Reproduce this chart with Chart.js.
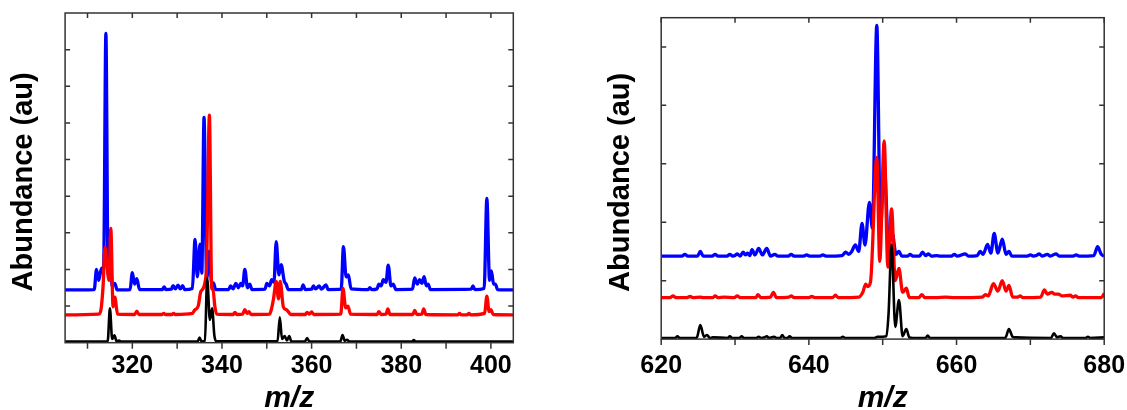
<!DOCTYPE html>
<html>
<head>
<meta charset="utf-8">
<script src="https://cdn.jsdelivr.net/npm/chart.js@4"></script>
<style>
  html, body { margin: 0; padding: 0; background: #fff; overflow: hidden; width: 1127px; height: 410px; }
  canvas { position: absolute; top: 0; }
  #left { left: 0; }
  #right { left: 590px; }
</style>
</head>
<body>
<canvas id="left" width="540" height="440"></canvas>
<canvas id="right" width="537" height="440"></canvas>
<script>
// [m/z, abundance]
const leftBlue = [
  [305, 1.44], [311.5, 1.45], [312.0, 2.0], [312.5, 1.7], [313.1, 2.02], [313.6, 2.1], [314.1, 8.44],
  [314.6, 1.85], [315.0, 2.85], [315.5, 1.55], [316.1, 1.62], [316.6, 1.44], [319.5, 1.45], [320.0, 1.91],
  [320.5, 1.6], [321.0, 1.75], [321.6, 1.45], [326.7, 1.45], [327.1, 1.52], [327.5, 1.45], [328.7, 1.46],
  [329.1, 1.56], [329.6, 1.47], [330.2, 1.57], [330.7, 1.47], [331.2, 1.56], [331.7, 1.45], [333.4, 1.48],
  [334.0, 2.82], [334.5, 1.8], [335.1, 2.69], [335.5, 1.9], [336.0, 6.15], [336.6, 1.75], [337.2, 2.5],
  [337.7, 1.6], [338.1, 1.63], [338.6, 1.45], [341.5, 1.45], [341.9, 1.55], [342.5, 1.47], [343.1, 1.62],
  [343.7, 1.5], [344.2, 1.62], [344.6, 1.55], [345.1, 2.0], [345.7, 1.5], [346.2, 1.6], [346.7, 1.45],
  [349.6, 1.46], [350.0, 1.62], [350.6, 1.55], [351.1, 1.72], [351.6, 1.65], [352.1, 2.76], [352.7, 1.85],
  [353.2, 2.13], [353.9, 1.68], [354.3, 1.6], [354.8, 1.45], [357.7, 1.45], [358.1, 1.58], [358.6, 1.45],
  [360.0, 1.46], [360.4, 1.55], [360.9, 1.47], [361.7, 1.55], [362.2, 1.46], [363.2, 1.58], [363.7, 1.45],
  [366.6, 1.46], [367.1, 2.62], [367.7, 1.8], [368.2, 1.85], [368.8, 1.47], [372.6, 1.45], [373.0, 1.5],
  [373.4, 1.45], [374.6, 1.47], [375.0, 1.6], [375.5, 1.55], [376.0, 1.72], [376.6, 1.65], [377.1, 2.12],
  [377.7, 1.55], [378.2, 1.6], [378.8, 1.45], [382.5, 1.46], [383.0, 1.77], [383.6, 1.6], [384.1, 1.72],
  [384.6, 1.62], [385.1, 1.8], [385.6, 1.55], [386.0, 1.6], [386.5, 1.45], [395.6, 1.46], [396.0, 1.55],
  [396.4, 1.45], [398.5, 1.48], [399.1, 3.94], [399.7, 1.7], [400.1, 1.96], [400.6, 1.6], [401.0, 1.6],
  [401.5, 1.45], [405, 1.44]
];
const leftRed = [
  [305, 0.76], [312.5, 0.78], [313.0, 0.9], [313.5, 1.6], [313.9, 2.6], [314.3, 2.2], [314.8, 1.7],
  [315.2, 3.12], [315.7, 0.98], [316.1, 1.24], [316.7, 0.78], [320.5, 0.77], [321.0, 0.86], [321.5, 0.77],
  [326.6, 0.77], [327.0, 0.8], [327.4, 0.77], [328.8, 0.77], [329.2, 0.8], [329.6, 0.77], [333.4, 0.8],
  [333.9, 0.89], [334.7, 1.0], [335.3, 1.4], [336.5, 1.9], [337.2, 6.21], [337.7, 1.5], [338.0, 1.45],
  [338.4, 1.0], [338.8, 0.78], [342.5, 0.77], [342.9, 0.83], [343.3, 0.77], [344.6, 0.78], [345.1, 0.9],
  [345.6, 0.8], [346.0, 0.85], [346.5, 0.77], [350.6, 0.78], [351.0, 0.9], [351.5, 1.2], [352.1, 1.67],
  [352.6, 1.2], [353.0, 1.67], [353.7, 0.97], [354.4, 0.9], [354.9, 0.83], [355.4, 0.77], [358.6, 0.77],
  [359.0, 0.83], [359.5, 0.78], [360.0, 0.84], [360.5, 0.77], [366.5, 0.78], [367.0, 1.48], [367.6, 0.95],
  [368.1, 1.0], [368.7, 0.78], [374.6, 0.77], [375.0, 0.85], [375.5, 0.77], [376.6, 0.78], [377.0, 0.92],
  [377.5, 0.77], [382.6, 0.77], [383.0, 0.88], [383.5, 0.77], [384.6, 0.78], [385.0, 0.92], [385.5, 0.77],
  [392.6, 0.76], [393.0, 0.8], [393.4, 0.76], [394.7, 0.76], [395.1, 0.8], [395.5, 0.76], [398.6, 0.8],
  [399.1, 1.27], [399.6, 0.85], [400.0, 0.9], [400.5, 0.77], [405, 0.76]
];
const leftBlack = [
  [305, 0.03], [314.5, 0.04], [315.0, 0.94], [315.5, 0.1], [316.0, 0.2], [316.5, 0.04], [317.0, 0.06],
  [317.5, 0.03], [334.6, 0.04], [335.0, 0.14], [335.4, 0.04], [336.2, 0.05], [336.7, 1.76], [337.3, 0.62],
  [337.8, 0.94], [338.3, 0.2], [338.7, 0.04], [352.4, 0.04], [352.9, 0.69], [353.4, 0.1], [354.0, 0.18],
  [354.5, 0.06], [355.0, 0.18], [355.5, 0.03], [358.5, 0.03], [359.0, 0.13], [359.5, 0.03], [366.4, 0.03],
  [366.9, 0.21], [367.4, 0.05], [367.9, 0.08], [368.4, 0.03], [382.4, 0.03], [382.8, 0.07], [383.2, 0.03],
  [405, 0.03]
];
const rightBlue = [
  [620, 1.42], [622.8, 1.42], [623.2, 1.45], [623.6, 1.42], [624.9, 1.42], [625.3, 1.5], [625.7, 1.42],
  [626.9, 1.42], [627.3, 1.45], [627.7, 1.42], [628.9, 1.42], [629.3, 1.45], [629.7, 1.42], [630.0, 1.43],
  [630.3, 1.46], [630.7, 1.42], [631.1, 1.49], [631.4, 1.44], [631.7, 1.47], [632.0, 1.43], [632.3, 1.53],
  [632.7, 1.44], [633.2, 1.55], [633.7, 1.44], [634.3, 1.55], [634.8, 1.42], [635.4, 1.45], [635.8, 1.42],
  [637.2, 1.42], [637.6, 1.45], [638.0, 1.42], [639.3, 1.42], [639.7, 1.44], [640.1, 1.42], [641.5, 1.42],
  [641.9, 1.44], [642.3, 1.42], [644.5, 1.43], [645.0, 1.49], [645.4, 1.45], [645.8, 1.5], [646.3, 1.61],
  [646.75, 1.5], [647.2, 1.98], [647.6, 1.61], [648.2, 2.34], [648.6, 1.9], [649.2, 5.37], [649.7, 1.9],
  [650.2, 2.99], [650.8, 1.61], [651.3, 1.81], [651.8, 1.45], [652.2, 1.5], [652.6, 1.42], [653.4, 1.42],
  [653.7, 1.45], [654.1, 1.42], [655.0, 1.42], [655.4, 1.49], [655.8, 1.43], [656.2, 1.46], [656.6, 1.42],
  [657.3, 1.43], [657.8, 1.42], [659.3, 1.42], [659.7, 1.45], [660.1, 1.42], [661.2, 1.46], [661.6, 1.42],
  [662.8, 1.43], [663.2, 1.5], [663.6, 1.45], [664.2, 1.62], [664.65, 1.47], [665.1, 1.81], [665.6, 1.47],
  [666.2, 1.71], [666.7, 1.45], [667.1, 1.5], [667.5, 1.42], [669.6, 1.42], [670.0, 1.44], [670.4, 1.42],
  [670.8, 1.43], [671.2, 1.46], [671.6, 1.42], [672.3, 1.45], [672.7, 1.42], [673.5, 1.46], [673.9, 1.42],
  [675.8, 1.42], [676.2, 1.44], [676.6, 1.42], [678.6, 1.43], [679.1, 1.58], [679.6, 1.45], [680, 1.42]
];
const rightRed = [
  [620, 0.71], [621.2, 0.71], [621.6, 0.74], [622, 0.71], [623.5, 0.71], [623.9, 0.73], [624.3, 0.71],
  [625.3, 0.72], [625.7, 0.71], [627.0, 0.71], [627.3, 0.74], [627.7, 0.71], [628.5, 0.72], [629.9, 0.71],
  [630.3, 0.74], [630.7, 0.71], [632.8, 0.71], [633.1, 0.76], [633.5, 0.71], [634.8, 0.72], [635.2, 0.8],
  [635.6, 0.71], [637.3, 0.72], [637.6, 0.74], [638, 0.71], [640.0, 0.71], [640.4, 0.73], [640.8, 0.71],
  [643.2, 0.71], [643.6, 0.75], [644.0, 0.71], [646.8, 0.72], [647.3, 0.8], [647.7, 0.94], [647.95, 0.9],
  [648.35, 0.98], [649.2, 3.11], [649.6, 1.33], [650.2, 3.39], [650.7, 1.23], [651.2, 2.23], [651.7, 1.0],
  [652.2, 1.21], [652.7, 0.8], [653.2, 0.87], [653.6, 0.71], [654.9, 0.71], [655.3, 0.76], [655.7, 0.71],
  [657.2, 0.71], [658.5, 0.72], [659.7, 0.71], [663.5, 0.72], [663.9, 0.76], [664.3, 0.74], [665.0, 0.95],
  [665.6, 0.82], [666.2, 1.0], [666.7, 0.82], [667.1, 0.92], [667.6, 0.72], [668.3, 0.72], [668.6, 0.74],
  [669.0, 0.71], [671.4, 0.72], [671.9, 0.84], [672.3, 0.77], [672.9, 0.8], [673.3, 0.77], [673.8, 0.77],
  [674.3, 0.74], [675.4, 0.75], [675.8, 0.72], [676.1, 0.74], [676.5, 0.71], [679.6, 0.71], [680, 0.78]
];
const rightBlack = [
  [620, 0.02], [621.9, 0.02], [622.2, 0.05], [622.5, 0.02], [624.8, 0.02], [625.3, 0.24], [625.8, 0.04],
  [626.2, 0.07], [626.6, 0.02], [627.0, 0.03], [629.0, 0.02], [629.3, 0.05], [629.6, 0.02], [630.6, 0.02],
  [630.9, 0.05], [631.2, 0.02], [632.9, 0.02], [633.2, 0.04], [633.5, 0.02], [634.0, 0.03], [634.3, 0.05],
  [634.6, 0.02], [635.0, 0.03], [635.3, 0.04], [635.6, 0.02], [636.1, 0.02], [636.4, 0.07], [636.7, 0.02],
  [637.1, 0.02], [637.4, 0.05], [637.7, 0.02], [644.3, 0.02], [644.6, 0.04], [644.9, 0.02], [648.9, 0.02],
  [649.3, 0.04], [650.5, 0.05], [650.8, 0.45], [651.2, 1.62], [651.7, 0.21], [652.2, 0.67], [652.7, 0.05],
  [653.2, 0.17], [653.6, 0.03], [654.1, 0.02], [655.8, 0.02], [656.1, 0.06], [656.4, 0.02], [666.6, 0.02],
  [667.1, 0.17], [667.6, 0.04], [668.0, 0.03], [672.8, 0.02], [673.2, 0.1], [673.6, 0.03], [674.1, 0.05],
  [674.4, 0.02], [677.5, 0.02], [677.8, 0.04], [678.1, 0.02], [680, 0.03]
];
const leftTicks = [310, 320, 330, 340, 350, 360, 370, 380, 390, 400];
const leftTickLabels = [320, 340, 360, 380, 400];
const rightTicks = [620, 630, 640, 650, 660, 670, 680];
const rightTickLabels = [620, 640, 660, 680];

const FONT = '"Liberation Sans", Arial, sans-serif';

// box round the plot with inward ticks (outward at the bottom)
const frame = {
  id: 'frame',
  afterDatasetsDraw(chart) {
    const { ctx, chartArea: a, scales: { x, y } } = chart;
    ctx.save();
    ctx.strokeStyle = '#333';
    ctx.lineWidth = 1.5;
    ctx.beginPath();
    x.ticks.forEach(t => {
      const px = x.getPixelForValue(t.value);
      ctx.moveTo(px, a.bottom); ctx.lineTo(px, a.bottom + 6);
      ctx.moveTo(px, a.top); ctx.lineTo(px, a.top + 5);
    });
    y.ticks.forEach(t => {
      if (!Number.isInteger(t.value) || t.value <= y.min || t.value >= y.max) return;
      const py = y.getPixelForValue(t.value);
      ctx.moveTo(a.left, py); ctx.lineTo(a.left + 5, py);
      ctx.moveTo(a.right, py); ctx.lineTo(a.right - 5, py);
    });
    ctx.stroke();
    ctx.strokeRect(a.left, a.top, a.right - a.left, a.bottom - a.top);
    ctx.restore();
  }
};

const toPts = arr => arr.map(([x, y]) => ({ x, y }));

function spectrum(id, o) {
  return new Chart(document.getElementById(id), {
    type: 'line',
    data: {
      datasets: [
        { data: toPts(o.black), borderColor: '#000000', borderWidth: 2.6 },
        { data: toPts(o.red), borderColor: '#ff0000', borderWidth: 3.3 },
        { data: toPts(o.blue), borderColor: '#0000ff', borderWidth: 3.3 }
      ]
    },
    options: {
      responsive: false,
      animation: false,
      devicePixelRatio: 1,
      layout: { padding: { top: o.top, right: o.right, left: 0, bottom: 0 } },
      elements: {
        point: { radius: 0 },
        line: { cubicInterpolationMode: 'monotone', borderJoinStyle: 'round' }
      },
      plugins: { legend: { display: false }, tooltip: { enabled: false } },
      scales: {
        x: {
          type: 'linear',
          min: o.xmin,
          max: o.xmax,
          // tickLength only spaces the labels; the marks come from the frame plugin
          grid: { display: false, drawTicks: true, tickLength: o.labelPad },
          border: { display: false },
          afterBuildTicks: s => { s.ticks = o.ticks.map(v => ({ value: v })); },
          ticks: {
            autoSkip: false,
            maxRotation: 0,
            color: '#000',
            padding: 0,
            font: { family: FONT, size: 25, weight: 'bold', lineHeight: 1 },
            callback: v => o.labels.includes(v) ? String(v) : ''
          },
          title: {
            display: true,
            text: 'm/z',
            color: '#000',
            font: { family: FONT, size: 30, weight: 'bold', style: 'italic', lineHeight: 1 },
            padding: { top: 0, bottom: 26 }
          },
          afterFit: s => { s.height = o.xHeight; }
        },
        y: {
          type: 'linear',
          min: 0,
          max: o.ymax,
          grid: { display: false, drawTicks: false },
          border: { display: false },
          ticks: { display: false, stepSize: 1 },
          title: {
            display: true,
            text: 'Abundance (au) ',
            color: '#000',
            font: { family: FONT, size: 29, weight: 'bold', lineHeight: 1 },
            padding: { top: o.titlePad, bottom: 0 }
          },
          afterFit: s => { s.width = o.yWidth; }
        }
      }
    },
    plugins: [frame]
  });
}

spectrum('left', {
  black: leftBlack, red: leftRed, blue: leftBlue,
  xmin: 305, xmax: 405, ymax: 9, ticks: leftTicks, labels: leftTickLabels,
  top: 13, right: 26.7, yWidth: 65.1, xHeight: 97.3, labelPad: 11.3, titlePad: 9.2
});

spectrum('right', {
  black: rightBlack, red: rightRed, blue: rightBlue,
  xmin: 620, xmax: 680, ymax: 5.5, ticks: rightTicks, labels: rightTickLabels,
  top: 17.7, right: 22.8, yWidth: 71.2, xHeight: 100.9, labelPad: 15, titlePad: 16.5
});
</script>
</body>
</html>
